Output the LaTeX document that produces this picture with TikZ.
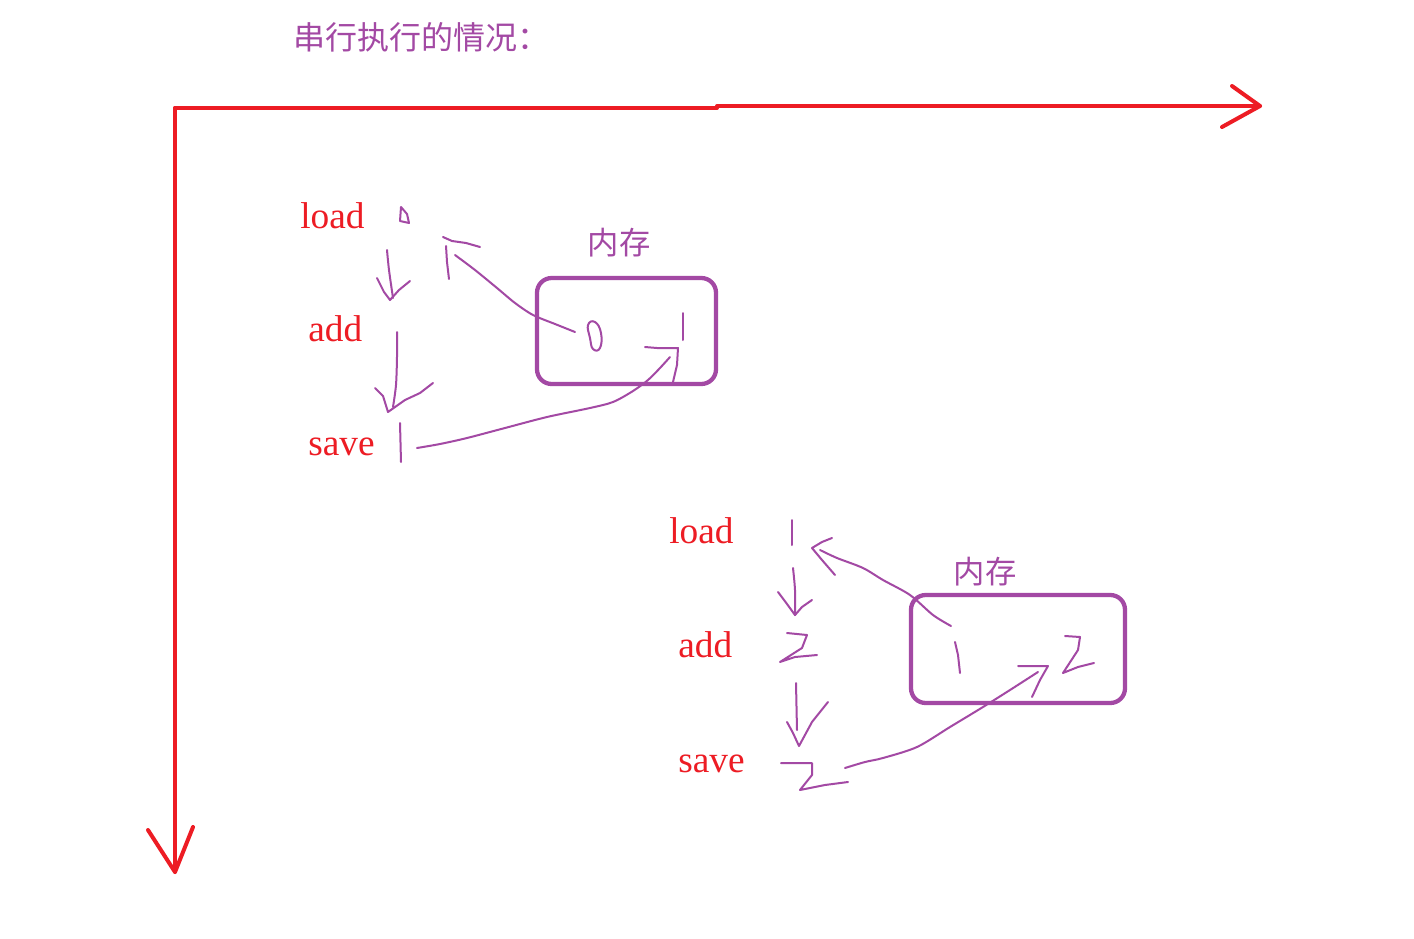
\documentclass[tikz,border=0pt]{standalone}
\usepackage{fontspec}
\setmainfont{Liberation Serif}
\newfontfamily\cjk{Noto Sans CJK SC}
\definecolor{pred}{RGB}{237,28,36}
\definecolor{ppur}{RGB}{163,73,164}
\begin{document}
\begin{tikzpicture}[x=0.75pt,y=-0.75pt,
  axis/.style={pred,line width=3pt,line cap=round,line join=round},
  box/.style={ppur,line width=3.2pt,rounded corners=11pt},
  pen/.style={ppur,line width=1.5pt,line cap=round,line join=round},
  op/.style={pred,font=\fontsize{28}{30}\selectfont,inner sep=0pt,anchor=base west},
  mem/.style={ppur,font=\cjk\fontsize{23.5}{26}\selectfont,inner sep=0pt},
  title/.style={ppur,font=\cjk\fontsize{24}{26}\selectfont,inner sep=0pt,anchor=west}]
\useasboundingbox (0,0) rectangle (1414,939);
\fill[white] (0,0) rectangle (1414,939);

% title
\node[title] (title) at (293,37) {串行执行的情况：};

% axes
\coordinate (origin) at (175,108);
\coordinate (xend) at (1260,106);
\coordinate (yend) at (175,872);
\draw[axis] (origin) -- (717,108) -- (717,106) -- (xend);
\draw[axis] (1232,86) -- (xend) -- (1222,127);
\draw[axis] (origin) -- (yend);
\draw[axis] (148,830) -- (yend) -- (193,827);

% ---------- first round ----------
\node[op] (load1) at (300,228) {load};
\node[op] (add1) at (308,341) {add};
\node[op] (save1) at (308,455) {save};
\node[mem] (mem1) at (619,243) {内存};
\draw[box] (537,278) rectangle (716,384);

% small 0 next to load
\draw[pen] (401,207) -- (400,221) -- (409,223) -- (407,214) -- cycle;
% load -> add
\draw[pen] plot[smooth,tension=0.5] coordinates {(387,250) (389,270) (393,298)};
\draw[pen] (377,278) -- (384,292) -- (390,300) -- (399,290) -- (410,281);
% 0 in memory, 1 in memory
\draw[pen] plot[smooth cycle,tension=0.8] coordinates {(588,325) (595,322) (601,333) (600,348) (593,349) (590,338)};
\draw[pen] (683,313) -- (683,340);
% memory 0 -> load (read)
\draw[pen] plot[smooth,tension=0.5] coordinates {(575,332) (555,324) (533,315) (515,303) (497,288) (475,270) (455,255)};
\draw[pen] (443,237) -- (452,241) -- (466,243) -- (480,247);
\draw[pen] (446,246) -- (447,262) -- (449,279);
% add -> save
\draw[pen] plot[smooth,tension=0.5] coordinates {(397,332) (397,357) (396,385) (393,407)};
\draw[pen] (375,388) -- (383,396) -- (388,412) -- (405,400) -- (420,393) -- (433,383);
% 1 next to save
\draw[pen] (400,423) -- (401,462);
% save -> memory
\draw[pen] plot[smooth,tension=0.5] coordinates {(417,448) (440,444) (467,438) (505,428) (547,417) (590,408) (613,402) (633,391) (648,380) (660,368) (670,357)};
\draw[pen] (645,347) -- (657,348) -- (678,348) -- (677,365) -- (673,382);

% ---------- second round ----------
\node[op] (load2) at (669,543) {load};
\node[op] (add2) at (678,657) {add};
\node[op] (save2) at (678,772) {save};
\node[mem] (mem2) at (985,572) {内存};
\draw[box] (911,595) rectangle (1125,703);

% 1 next to load
\draw[pen] (792,520) -- (792,545);
% load -> add
\draw[pen] plot[smooth,tension=0.5] coordinates {(793,568) (795,590) (795,615)};
\draw[pen] (778,592) -- (787,604) -- (795,615) -- (802,607) -- (812,600);
% 2 next to add
\draw[pen] (787,633) -- (807,635) -- (802,648) -- (780,662) -- (795,657) -- (817,655);
% add -> save
\draw[pen] (796,683) -- (797,730);
\draw[pen] (787,722) -- (793,733) -- (799,746) -- (812,722) -- (828,702);
% 2 next to save
\draw[pen] (781,763) -- (812,763) -- (812,775) -- (800,790) -- (825,785) -- (848,782);
% memory 1 -> load (read)
\draw[pen] plot[smooth,tension=0.5] coordinates {(951,626) (933,615) (910,595) (883,580) (863,568) (837,558) (820,550)};
\draw[pen] (832,538) -- (822,542) -- (812,548) -- (822,560) -- (835,575);
% 1 and 2 in memory
\draw[pen] (955,642) -- (958,655) -- (960,673);
\draw[pen] (1065,636) -- (1080,637) -- (1078,650) -- (1063,673) -- (1078,667) -- (1094,663);
% save -> memory
\draw[pen] plot[smooth,tension=0.5] coordinates {(845,768) (865,762) (883,758) (917,747) (950,727) (983,707) (1010,690) (1038,672)};
\draw[pen] (1018,666) -- (1035,666) -- (1048,666) -- (1040,680) -- (1032,697);
\end{tikzpicture}
\end{document}
